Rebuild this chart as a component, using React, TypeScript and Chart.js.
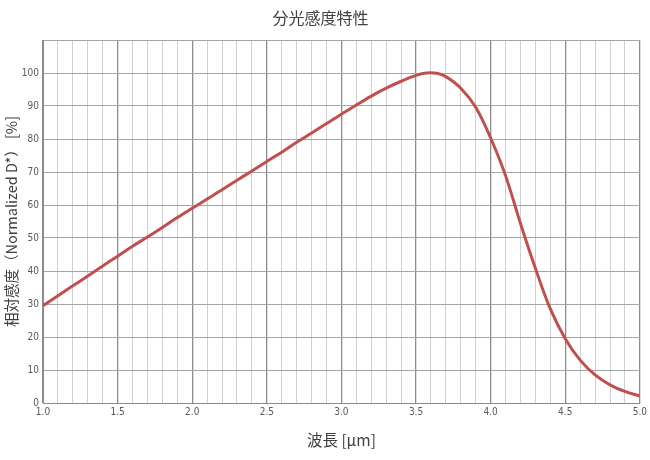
import React, { useEffect, useRef } from "react";
import { Chart, registerables } from "chart.js";
Chart.register(...registerables);

const wavelength = [1.0, 1.1, 1.2, 1.3, 1.4, 1.5, 1.6, 1.7, 1.8, 1.9, 2.0, 2.1, 2.2, 2.3, 2.4, 2.5, 2.6, 2.7, 2.8, 2.9, 3.0, 3.1, 3.2, 3.3, 3.4, 3.5, 3.57, 3.64, 3.7, 3.8, 3.9, 4.0, 4.1, 4.2, 4.3, 4.4, 4.5, 4.6, 4.7, 4.8, 4.9, 5.0];
const sensitivity = [29.5, 32.5, 35.5, 38.5, 41.5, 44.5, 47.5, 50.3, 53.2, 56.2, 59.0, 61.8, 64.6, 67.5, 70.3, 73.2, 76.0, 79.0, 81.8, 84.7, 87.5, 90.3, 93.0, 95.4, 97.5, 99.3, 100, 99.9, 98.9, 95.4, 89.6, 80.3, 68.9, 54.4, 40.8, 28.5, 19.5, 13.0, 8.5, 5.5, 3.5, 2.1];
const xLabelValues = [1.0, 1.5, 2.0, 2.5, 3.0, 3.5, 4.0, 4.5, 5.0];
const yLabelValues = [0, 10, 20, 30, 40, 50, 60, 70, 80, 90, 100];

const titleText = "分光感度特性";
const xTitle = "波長 [μm]";
const yTitle = "相対感度（Normalized D*） [%]";

export default function App() {
  const ref = useRef<HTMLCanvasElement>(null);
  useEffect(() => {
    const isMajor = (v: number) => xLabelValues.some((m) => Math.abs(m - v) < 1e-6);
    const chart = new Chart(ref.current!, {
      type: "line",
      data: {
        datasets: [
          {
            data: wavelength.map((x, i) => ({ x, y: sensitivity[i] })),
            borderColor: "#c0504d",
            borderWidth: 3,
            pointRadius: 0,
            tension: 0.35,
            fill: false,
          },
        ],
      },
      options: {
        animation: false,
        responsive: false,
        layout: { padding: { left: 0, right: 9, top: 0, bottom: 0 } },
        plugins: {
          legend: { display: false },
          tooltip: { enabled: false },
          title: {
            display: true,
            text: titleText,
            color: "#404040",
            font: { family: "'Noto Sans CJK JP', sans-serif", size: 16, weight: "normal" },
            padding: { top: 8.4, bottom: 12.4 },
          },
        },
        scales: {
          x: {
            type: "linear",
            min: 1,
            max: 5,
            afterFit: (s: any) => {
              s.height = 57;
            },
            afterBuildTicks: (s: any) => {
              const t = [];
              for (let i = 0; i <= 40; i++) t.push({ value: 1 + i * 0.1 });
              s.ticks = t;
            },
            ticks: {
              autoSkip: false,
              maxRotation: 0,
              padding: 3,
              color: "#595959",
              font: { family: "'Liberation Sans Narrow', 'DejaVu Sans Condensed', sans-serif", size: 10 },
              callback: (v: any) => (isMajor(Number(v)) ? Number(v).toFixed(1) : ""),
            },
            grid: {
              drawTicks: false,
              color: (ctx: any) => (isMajor(ctx.tick?.value ?? 0) ? "#8c8c8c" : "#cfcfcf"),
              lineWidth: (ctx: any) => (isMajor(ctx.tick?.value ?? 0) ? 1.3 : 1),
            },
            border: { color: "#8c8c8c" },
            title: {
              display: true,
              text: xTitle,
              color: "#404040",
              font: { family: "'Noto Sans CJK JP', sans-serif", size: 15.5 },
              padding: { top: 0, bottom: 10.7 },
            },
          },
          y: {
            min: 0,
            max: 110,
            afterFit: (s: any) => {
              s.width = 43;
            },
            ticks: {
              stepSize: 10,
              padding: 4,
              color: "#595959",
              font: { family: "'Liberation Sans Narrow', 'DejaVu Sans Condensed', sans-serif", size: 10 },
              callback: (v: any) => (yLabelValues.includes(Number(v)) ? String(v) : ""),
            },
            grid: { drawTicks: false, color: "#a6a6a6" },
            border: { color: "#8c8c8c" },
            title: {
              display: true,
              text: yTitle,
              color: "#404040",
              font: { family: "'Noto Sans CJK JP', sans-serif", size: 14.5 },
              padding: { top: 3, bottom: 0 },
            },
          },
        },
      },
    } as any);
    return () => chart.destroy();
  }, []);
  return (
    <div style={{ position: "absolute", left: 0, top: 0, width: 650, height: 460, background: "#fff" }}>
      <canvas ref={ref} width={650} height={460} style={{ width: 650, height: 460 }} />
    </div>
  );
}
